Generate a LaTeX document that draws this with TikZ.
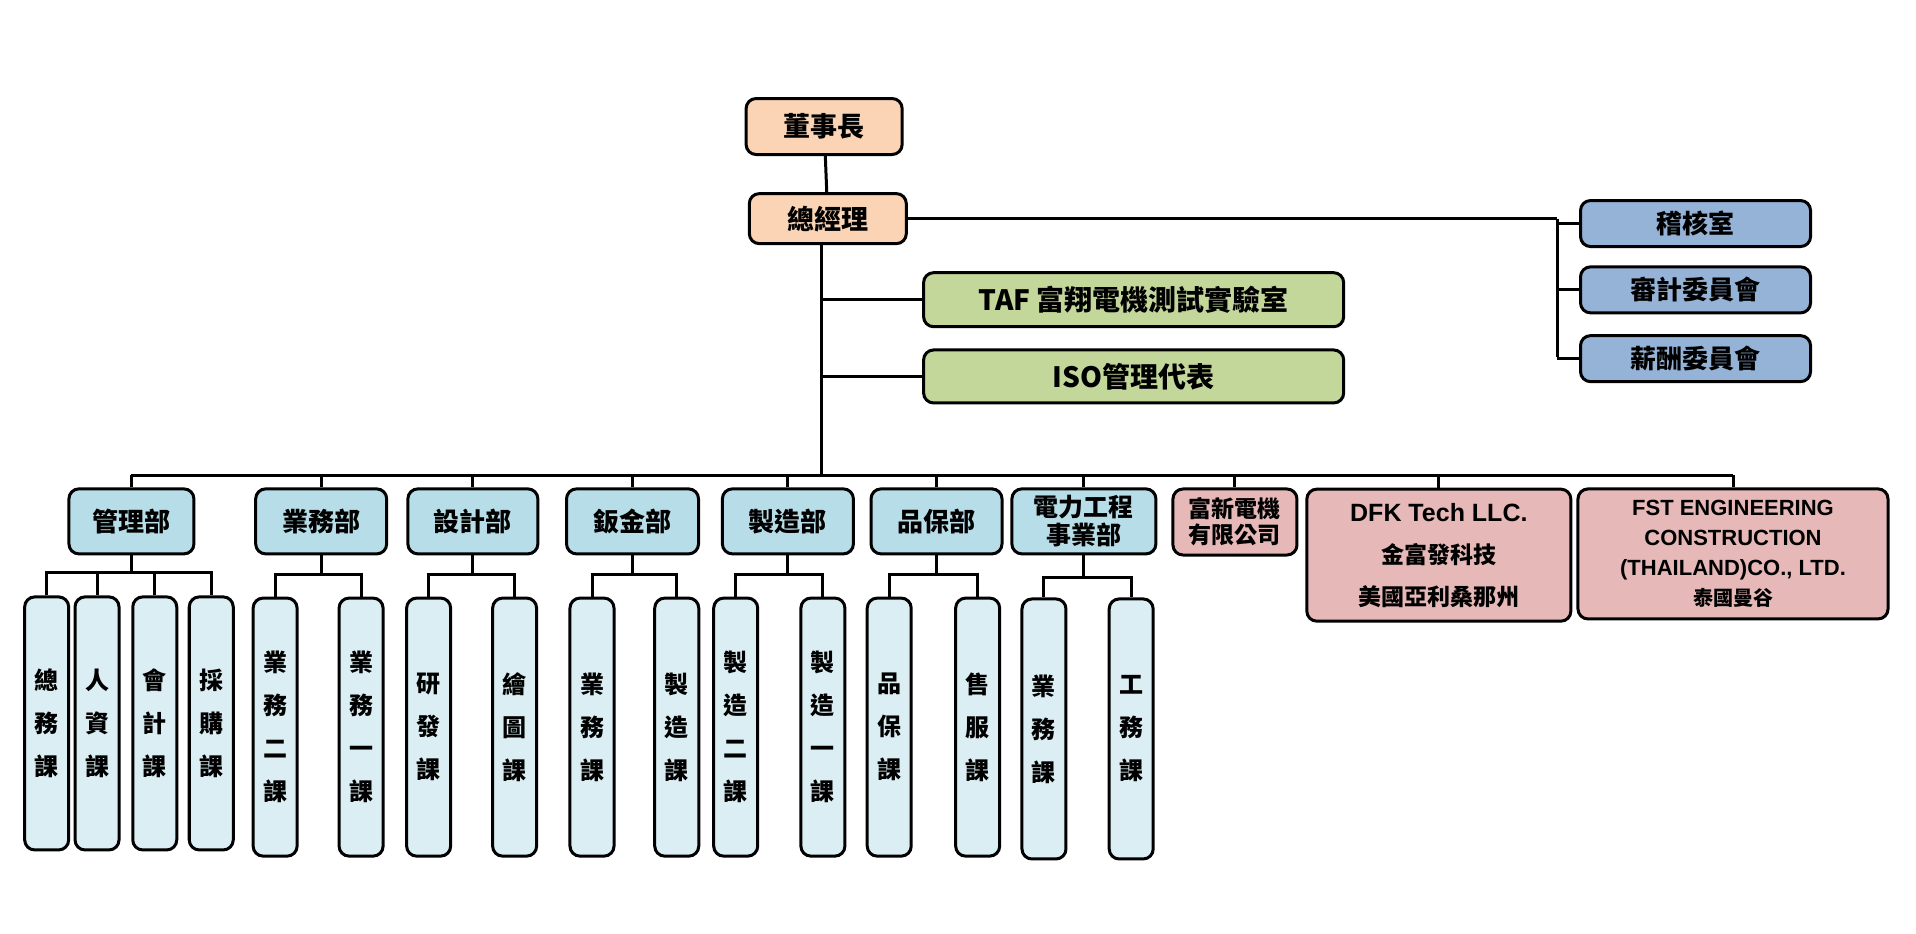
\documentclass[tikz,border=0pt]{standalone}
\usepackage{fontspec}
\setmainfont{Noto Sans CJK TC}
\newfontfamily\lat{Liberation Sans}
\definecolor{peach}{HTML}{FAD4B5}
\definecolor{grn}{HTML}{C4D79B}
\definecolor{blu}{HTML}{95B3D7}
\definecolor{dept}{HTML}{B7DEE8}
\definecolor{sub}{HTML}{DAEEF3}
\definecolor{pnk}{HTML}{E6B9B8}
\tikzset{
 box/.style={draw=black,line width=1.5pt,rounded corners=5pt,inner sep=0pt,align=center,font=\bfseries},
 ln/.style={line width=1.5pt},
 sb/.style={box,fill=sub,minimum width=22pt,minimum height=126pt,font=\bfseries\fontsize{12}{21.5}\selectfont},
 dp/.style={box,fill=dept,minimum height=32.5pt,font=\bfseries\fontsize{13}{15}\selectfont},
}
\begin{document}
\begin{tikzpicture}[x=0.614pt,y=-0.614pt]
\useasboundingbox (0,0) rectangle (1560,760);
\node[box,fill=peach,minimum width=78pt,minimum height=28pt,font=\bfseries\fontsize{13.5}{15}\selectfont] (dsz) at (671,103) {董事長};
\node[box,fill=peach,minimum width=78.5pt,minimum height=25pt,font=\bfseries\fontsize{13.5}{15}\selectfont] (zjl) at (674,178) {總經理};
\foreach \n/\t/\y in {jh/稽核室/182,sj/審計委員會/236,xc/薪酬委員會/292}
  \node[box,fill=blu,minimum width=115pt,minimum height=23pt,font=\bfseries\fontsize{13}{15}\selectfont] (\n) at (1380.5,\y) {\t};
\node[box,fill=grn,minimum width=210pt,minimum height=27pt,font=\bfseries\fontsize{14}{16}\selectfont] (taf) at (923,244) {TAF 富翔電機測試實驗室};
\node[box,fill=grn,minimum width=210pt,minimum height=26.5pt,font=\bfseries\fontsize{14}{16}\selectfont] (iso) at (923,306.5) {ISO管理代表};
\draw[ln] (dsz) -- (zjl);
\coordinate (busC) at (669,387);
\draw[ln] (669,198) -- (busC);
\draw[ln] (zjl.east) -- (1268,178) coordinate (rj);
\draw[ln] (rj) -- (1268,291);
\foreach \n in {jh,sj,xc} \draw[ln] (\n.west) -- (\n.west -| rj);
\draw[ln] (taf.west) -- (taf.west -| busC);
\draw[ln] (iso.west) -- (iso.west -| busC);
% departments
\node[dp,minimum width=62.5pt] (d1) at (107,424.5) {管理部};
\node[dp,minimum width=65.5pt] (d2) at (261.5,424.5) {業務部};
\node[dp,minimum width=65pt] (d3) at (385,424.5) {設計部};
\node[dp,minimum width=66pt] (d4) at (515,424.5) {鈑金部};
\node[dp,minimum width=65.5pt] (d5) at (641.5,424.5) {製造部};
\node[dp,minimum width=65.5pt] (d6) at (762.5,424.5) {品保部};
\node[dp,minimum width=72pt,font=\bfseries\fontsize{12.5}{14}\selectfont] (d7) at (882.5,424.5) {電力工程\\事業部};
\node[box,fill=pnk,minimum width=62pt,minimum height=33pt,font=\bfseries\fontsize{11.5}{13}\selectfont] (d8) at (1005.5,425) {富新電機\\有限公司};
\node[box,fill=pnk,minimum width=132pt,minimum height=66pt,font=\bfseries\fontsize{11.5}{21}\selectfont] (d9) at (1171.5,452) {{\lat\bfseries\fontsize{12.5}{14}\selectfont DFK Tech LLC.}\\金富發科技\\美國亞利桑那州};
\node[box,fill=pnk,minimum width=155pt,minimum height=65pt,font=\lat\bfseries\fontsize{11}{15}\selectfont] (d10) at (1411,451) {FST ENGINEERING\\CONSTRUCTION\\(THAILAND)CO., LTD.\\{\fontspec{Noto Sans CJK TC}\bfseries\fontsize{10}{14}\selectfont 泰國曼谷}};
\draw[ln] (107,387) -- (1411,387);
\foreach \d in {d1,d2,d3,d4,d5,d6,d7,d8,d9,d10} \draw[ln] (\d.north) -- (\d.north |- busC);
% sections
\foreach \n/\x/\t in {s11/38/總\\務\\課,s12/79/人\\資\\課,s13/126/會\\計\\課,s14/172/採\\購\\課}
  \node[sb,minimum height=126.5pt] (\n) at (\x,589) {\t};
\foreach \n/\x/\t in {s21/224/業\\務\\二\\課,s22/294/業\\務\\一\\課,s31/349/研\\發\\課,s32/419/繪\\圖\\課,s41/482/業\\務\\課,s42/551/製\\造\\課,s51/599/製\\造\\二\\課,s52/670/製\\造\\一\\課,s61/724/品\\保\\課,s62/796/售\\服\\課}
  \node[sb,minimum height=129pt] (\n) at (\x,592) {\t};
\foreach \n/\x/\t in {s71/850/業\\務\\課,s72/921/工\\務\\課}
  \node[sb,minimum height=130pt] (\n) at (\x,593.5) {\t};
\foreach \d/\y/\ss in {d1/466/{s11,s12,s13,s14},d2/468/{s21,s22},d3/468/{s31,s32},d4/468/{s41,s42},d5/468/{s51,s52},d6/468/{s61,s62},d7/470/{s71,s72}}{
  \draw[ln] (\d.south) -- (\d.south |- 0,\y);
  \foreach \s in \ss \draw[ln] (\d.south |- 0,\y) -| (\s.north);
}
\end{tikzpicture}
\end{document}
